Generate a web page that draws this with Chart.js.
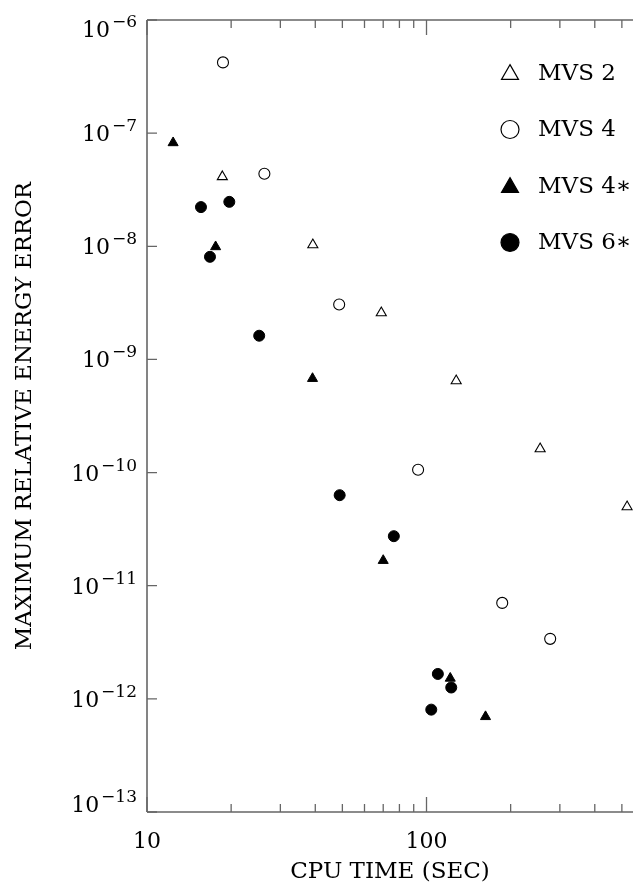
<!DOCTYPE html>
<html>
<head>
<meta charset="utf-8">
<script src="https://cdn.jsdelivr.net/npm/chart.js@4/dist/chart.umd.min.js"></script>
<style>
  html, body { margin: 0; padding: 0; background: #fff; overflow: hidden; }
  #wrap { width: 633px; height: 888px; position: relative; }
  #chart { display: block; }
</style>
</head>
<body>
<div id="wrap"><canvas id="chart"></canvas></div>
<script>
// values (CPU time in seconds, max relative energy error)
const mvs2Time = [18.6, 39.2, 68.9, 127.7, 255, 522];
const mvs2Err = [4.12e-8, 1.03e-8, 2.58e-9, 6.47e-10, 1.62e-10, 4.98e-11];

const mvs4Time = [18.7, 26.3, 48.7, 93.3, 186.6, 277];
const mvs4Err = [4.22e-7, 4.38e-8, 3.06e-9, 1.06e-10, 7.05e-12, 3.39e-12];

const mvs4sTime = [12.4, 17.6, 39.1, 70.0, 121.6, 162.6];
const mvs4sErr = [8.22e-8, 9.9e-9, 6.78e-10, 1.67e-11, 1.52e-12, 6.96e-13];

const mvs6sTime = [15.6, 16.8, 19.7, 25.2, 48.9, 76.4, 104, 109.8, 122.6];
const mvs6sErr = [2.22e-8, 8.07e-9, 2.47e-8, 1.62e-9, 6.31e-11, 2.74e-11, 8.03e-13, 1.66e-12, 1.26e-12];

const seriesNames = ['MVS 2', 'MVS 4', 'MVS 4\u2217', 'MVS 6\u2217'];
const yExponents = [-6, -7, -8, -9, -10, -11, -12, -13];
const xTickLabels = [10, 100];
const xTitle = 'CPU TIME (SEC)';
const yTitle = 'MAXIMUM RELATIVE ENERGY ERROR';

const FONT = '"DejaVu Serif", serif';
const AXIS = '#666';

function pts(xs, ys) {
  return xs.map((x, i) => ({ x: x, y: ys[i] }));
}

// axes, ticks, labels and legend drawn in the paper style
const paperAxes = {
  id: 'paperAxes',
  afterDraw(chart) {
    const ctx = chart.ctx;
    const a = chart.chartArea;
    const xs = chart.scales.x;
    const ys = chart.scales.y;
    ctx.save();

    // frame: left, top, bottom
    ctx.strokeStyle = AXIS;
    ctx.lineWidth = 1.6;
    ctx.beginPath();
    ctx.moveTo(a.left, a.top);
    ctx.lineTo(a.left, a.bottom);
    ctx.moveTo(a.left, a.top);
    ctx.lineTo(a.right + 2, a.top);
    ctx.moveTo(a.left, a.bottom);
    ctx.lineTo(a.right + 2, a.bottom);
    ctx.stroke();

    // x ticks (log decades with minors), inward on top and bottom
    ctx.lineWidth = 1.3;
    ctx.beginPath();
    for (let d = 10; d <= 100; d *= 10) {
      for (let m = 1; m <= 9; m++) {
        const v = d * m;
        if (v < xs.min || v > xs.max) continue;
        const px = xs.getPixelForValue(v);
        const len = m === 1 ? 15 : 8;
        ctx.moveTo(px, a.bottom);
        ctx.lineTo(px, a.bottom - len);
        ctx.moveTo(px, a.top);
        ctx.lineTo(px, a.top + len);
      }
    }
    // y ticks at decades
    yExponents.forEach(e => {
      const py = ys.getPixelForValue(Math.pow(10, e));
      ctx.moveTo(a.left, py);
      ctx.lineTo(a.left + 10, py);
    });
    ctx.stroke();

    // y tick labels: 10 with superscript exponent
    ctx.fillStyle = '#000';
    ctx.textBaseline = 'alphabetic';
    ctx.textAlign = 'left';
    yExponents.forEach((e, i) => {
      const py = ys.getPixelForValue(Math.pow(10, e));
      let shift = 0;
      if (i === 0) shift = 9;
      if (i === yExponents.length - 1) shift = -8;
      const sup = '\u2212' + String(-e);
      ctx.font = '17px ' + FONT;
      const wSup = ctx.measureText(sup).width;
      ctx.font = '22px ' + FONT;
      const wBase = ctx.measureText('10').width;
      const right = a.left - 10;
      const x0 = right - wSup - 2 - wBase;
      ctx.fillText('10', x0, py + 8 + shift);
      ctx.font = '17px ' + FONT;
      ctx.fillText(sup, x0 + wBase + 2, py - 2 + shift);
    });

    // x tick labels
    ctx.font = '22px ' + FONT;
    ctx.textAlign = 'center';
    ctx.textBaseline = 'middle';
    xTickLabels.forEach(v => {
      ctx.fillText(String(v), xs.getPixelForValue(v), a.bottom + 30);
    });

    // axis titles
    ctx.font = '23px ' + FONT;
    ctx.fillText(xTitle, (a.left + a.right) / 2, a.bottom + 60);
    ctx.save();
    ctx.translate(25, (a.top + a.bottom) / 2);
    ctx.rotate(-Math.PI / 2);
    ctx.fillText(yTitle, 0, 0);
    ctx.restore();

    // legend inside the plot, top right
    const lx = 510, ly0 = 73, step = 56.5;
    chart.data.datasets.forEach((ds, i) => {
      const cy = ly0 + i * step;
      ctx.beginPath();
      if (ds.pointStyle === 'triangle') {
        const r = 9.8;
        ctx.moveTo(lx, cy - r * 0.75 - 1);
        ctx.lineTo(lx + r * 0.866, cy + r * 0.75 - 1);
        ctx.lineTo(lx - r * 0.866, cy + r * 0.75 - 1);
        ctx.closePath();
      } else {
        ctx.arc(lx, cy, 9, 0, Math.PI * 2);
      }
      ctx.fillStyle = ds.backgroundColor;
      ctx.fill();
      ctx.strokeStyle = '#000';
      ctx.lineWidth = 1.2;
      ctx.stroke();
      ctx.fillStyle = '#000';
      ctx.font = '23px ' + FONT;
      ctx.textAlign = 'left';
      ctx.textBaseline = 'middle';
      ctx.fillText(ds.label, lx + 28, cy + 1);
    });

    ctx.restore();
  }
};

new Chart(document.getElementById('chart'), {
  type: 'scatter',
  data: {
    datasets: [
      {
        label: seriesNames[0],
        data: pts(mvs2Time, mvs2Err),
        pointStyle: 'triangle',
        pointRadius: 5.8,
        backgroundColor: '#fff',
        borderColor: '#000',
        borderWidth: 1.1
      },
      {
        label: seriesNames[1],
        data: pts(mvs4Time, mvs4Err),
        pointStyle: 'circle',
        pointRadius: 5.5,
        backgroundColor: '#fff',
        borderColor: '#000',
        borderWidth: 1.1
      },
      {
        label: seriesNames[2],
        data: pts(mvs4sTime, mvs4sErr),
        pointStyle: 'triangle',
        pointRadius: 5.8,
        backgroundColor: '#000',
        borderColor: '#000',
        borderWidth: 1
      },
      {
        label: seriesNames[3],
        data: pts(mvs6sTime, mvs6sErr),
        pointStyle: 'circle',
        pointRadius: 5.5,
        backgroundColor: '#000',
        borderColor: '#000',
        borderWidth: 1
      }
    ]
  },
  options: {
    responsive: true,
    maintainAspectRatio: false,
    animation: false,
    clip: false,
    layout: { autoPadding: false, padding: { left: 147, top: 20, right: 0, bottom: 76 } },
    plugins: {
      legend: { display: false },
      tooltip: { enabled: false }
    },
    scales: {
      x: { type: 'logarithmic', min: 10, max: 548, display: false },
      y: { type: 'logarithmic', min: 1e-13, max: 1e-6, display: false }
    }
  },
  plugins: [paperAxes]
});
</script>
</body>
</html>
